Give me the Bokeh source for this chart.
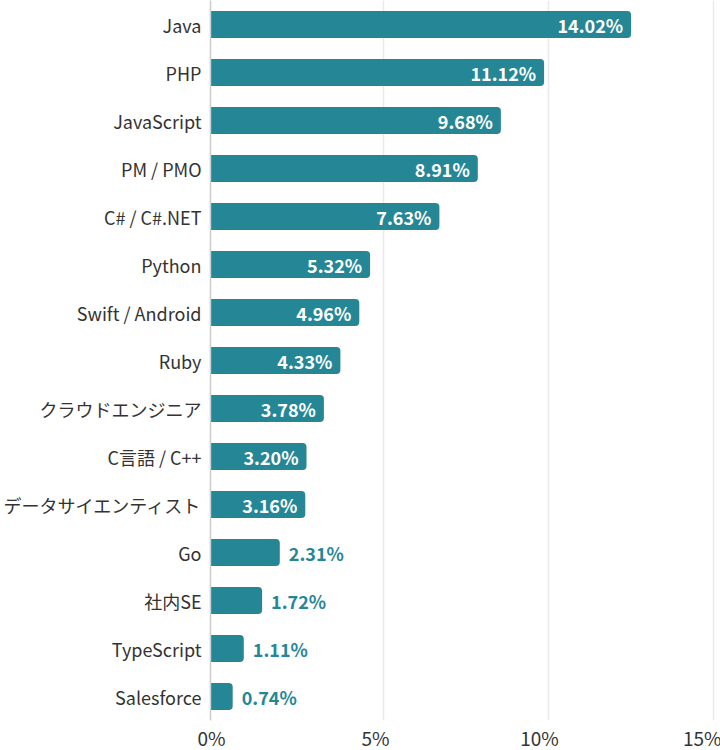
from bokeh.plotting import figure
from bokeh.models import (ColumnDataSource, FactorRange, Range1d, LinearAxis, Grid,
                          FixedTicker, PrintfTickFormatter)
from bokeh.core.properties import value
from bokeh.embed import file_html
from bokeh.resources import INLINE

categories = ["Java", "PHP", "JavaScript", "PM / PMO", "C# / C#.NET", "Python",
              "Swift / Android", "Ruby", "クラウドエンジニア", "C言語 / C++",
              "データサイエンティスト", "Go", "社内SE", "TypeScript", "Salesforce"]
shares = [14.02, 11.12, 9.68, 8.91, 7.63, 5.32, 4.96, 4.33, 3.78, 3.20, 3.16,
          2.31, 1.72, 1.11, 0.74]
axis_ticks = [0, 5, 10, 15]

TEAL = "#258796"
FONT = "Noto Sans CJK JP"

labels = [f"{v:.2f}%" for v in shares]
src = ColumnDataSource(dict(cat=categories, val=shares, lab=labels))
inside = [i for i, v in enumerate(shares) if v >= 3]
outside = [i for i, v in enumerate(shares) if v < 3]
src_in = ColumnDataSource(dict(cat=[categories[i] for i in inside],
                               val=[shares[i] for i in inside],
                               lab=[labels[i] for i in inside]))
src_out = ColumnDataSource(dict(cat=[categories[i] for i in outside],
                                val=[shares[i] for i in outside],
                                lab=[labels[i] for i in outside]))

p = figure(frame_width=511, frame_height=720,
           y_range=FactorRange(factors=list(reversed(categories))),
           x_range=Range1d(0, 511 / 30.0),
           x_axis_location=None,
           output_backend="svg", toolbar_location=None,
           min_border_left=209, min_border_right=0, min_border_top=0,
           min_border_bottom=30)
p.outline_line_color = None
p.background_fill_color = "white"
p.border_fill_color = "white"
p.xgrid.visible = False
p.ygrid.visible = False

# extra ranges for axis labels and gridlines
p.extra_x_ranges = {"xaxis": Range1d(-1 / 32.8, 510 / 32.8),
                    "xgrid": Range1d(-8 / 33.0, 503 / 33.0)}

grid = Grid(dimension=0, ticker=FixedTicker(ticks=axis_ticks[1:]),
            x_range_name="xgrid", grid_line_color="#e9e9e9", grid_line_width=1.5)
p.add_layout(grid)

xaxis = LinearAxis(x_range_name="xaxis", ticker=FixedTicker(ticks=axis_ticks),
                   formatter=PrintfTickFormatter(format="%d%%"))
xaxis.axis_line_color = None
xaxis.major_tick_line_color = None
xaxis.minor_tick_line_color = None
xaxis.major_tick_out = 0
xaxis.major_tick_in = 0
xaxis.major_label_standoff = 3
xaxis.major_label_text_font = FONT
xaxis.major_label_text_font_size = "19px"
xaxis.major_label_text_color = "#333333"
p.add_layout(xaxis, "below")

yaxis = p.yaxis[0]
yaxis.axis_line_color = "#cccccc"
yaxis.axis_line_width = 1.5
yaxis.major_tick_line_color = None
yaxis.minor_tick_line_color = None
yaxis.major_tick_out = 0
yaxis.major_tick_in = 0
yaxis.major_label_standoff = 9
yaxis.major_label_text_font = FONT
yaxis.major_label_text_font_size = "18px"
yaxis.major_label_text_color = "#333333"

p.hbar(y="cat", left=0, right="val", height=0.56, source=src,
       fill_color=TEAL, line_color=None, border_radius=(0, 4, 4, 0))

p.text(x="val", y="cat", text="lab", source=src_in, text_align="right",
       text_baseline="middle", x_offset=-8, text_color="white",
       text_font=value(FONT), text_font_style="bold", text_font_size="18px")
p.text(x="val", y="cat", text="lab", source=src_out, text_align="left",
       text_baseline="middle", x_offset=9, text_color=TEAL,
       text_font=value(FONT), text_font_style="bold", text_font_size="18px")

open("out.html", "w").write(file_html(p, INLINE))
